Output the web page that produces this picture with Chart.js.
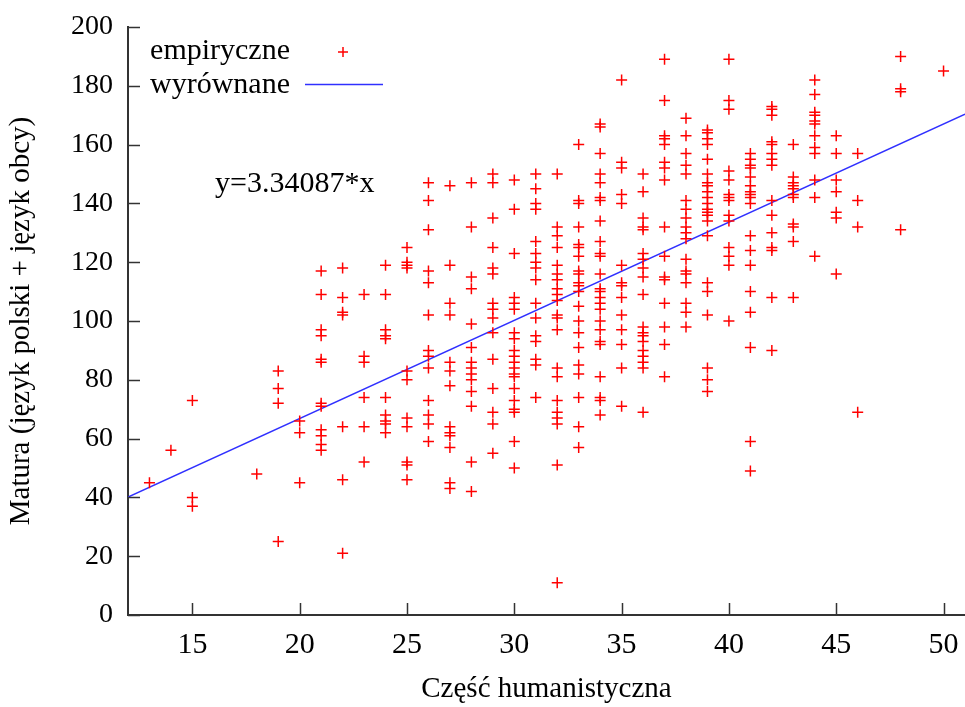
<!DOCTYPE html>
<html>
<head>
<meta charset="utf-8">
<script src="https://cdn.jsdelivr.net/npm/chart.js@4.4.0/dist/chart.umd.min.js"></script>
<style>
    html, body { margin: 0; padding: 0; background: #fff; }
    #wrap { width: 965px; height: 707px; }
</style>
</head>
<body>
<div id="wrap"><canvas id="myChart"></canvas></div>
<script>
// część humanistyczna (x) -> wyniki matury w tej kolumnie
var humanScores = [13, 14, 15, 18, 19, 20, 21, 22, 23, 24, 25, 26, 27, 28, 29, 30, 31, 32, 33,
    34, 35, 36, 37, 38, 39, 40, 41, 42, 43, 44, 45, 46, 48, 50];
var maturaScores = [
    [45],
    [56],
    [73, 40, 37],
    [48],
    [83, 77, 72, 25],
    [66, 62, 45],
    [117, 109, 97, 95, 87, 86, 72, 71, 63, 61, 58, 56],
    [118, 108, 103, 102, 64, 46, 21],
    [109, 88, 86, 74, 64, 52],
    [119, 109, 97, 95, 94, 74, 68, 66, 65, 62],
    [125, 120, 119, 118, 83, 80, 67, 64, 52, 51, 46],
    [147, 141, 131, 117, 113, 102, 90, 88, 84, 73, 68, 65, 59],
    [146, 119, 106, 102, 86, 83, 78, 64, 62, 61, 57, 45, 43],
    [147, 132, 115, 111, 99, 91, 86, 84, 82, 80, 76, 71, 52, 42],
    [150, 147, 135, 125, 118, 116, 106, 104, 101, 96, 87, 77, 69, 65, 55],
    [148, 138, 123, 108, 106, 104, 96, 94, 90, 88, 86, 84, 82, 81, 77, 73, 70, 69, 59, 50],
    [150, 145, 140, 138, 127, 123, 120, 118, 114, 106, 101, 95, 93, 87, 85, 74],
    [150, 132, 129, 125, 119, 116, 114, 111, 109, 107, 102, 101, 97, 84, 81, 73, 69, 67, 65, 51, 11],
    [160, 141, 140, 132, 126, 125, 122, 117, 116, 113, 112, 110, 105, 100, 96, 91, 85, 82, 74, 64, 57],
    [167, 166, 157, 150, 147, 142, 141, 134, 127, 123, 122, 116, 111, 110, 108, 106, 104, 100, 97, 93, 92, 81, 74, 73, 68],
    [182, 154, 152, 143, 140, 119, 113, 112, 108, 102, 97, 92, 84, 71],
    [150, 144, 135, 132, 131, 123, 121, 118, 115, 109, 98, 96, 95, 93, 90, 88, 86, 84, 69],
    [189, 175, 163, 162, 160, 154, 152, 148, 132, 122, 115, 114, 106, 98, 92, 81],
    [169, 163, 157, 153, 150, 141, 138, 135, 132, 130, 128, 121, 117, 116, 113, 106, 103, 98],
    [165, 164, 162, 160, 155, 150, 147, 146, 144, 142, 140, 138, 137, 136, 134, 129, 113, 110, 102, 84, 80, 76],
    [189, 175, 172, 151, 148, 143, 142, 141, 136, 134, 125, 122, 119, 100],
    [157, 155, 153, 152, 149, 146, 144, 143, 142, 140, 129, 124, 119, 110, 103, 91, 59, 49],
    [173, 172, 170, 161, 160, 157, 155, 153, 141, 136, 130, 125, 124, 108, 90],
    [160, 149, 147, 146, 145, 143, 142, 133, 132, 127, 108],
    [182, 177, 171, 170, 168, 167, 163, 159, 157, 148, 142, 122],
    [163, 157, 148, 144, 137, 135, 116],
    [157, 141, 132, 69],
    [190, 179, 178, 131],
    [185]
];

// prosta y=3.34087*x na krańcach osi
var fitX = [12, 51];
var fitY = [40.09, 170.38];

var xTicks = [15, 20, 25, 30, 35, 40, 45, 50];
var yTicks = [0, 20, 40, 60, 80, 100, 120, 140, 160, 180, 200];

var serif = "'Liberation Serif', 'Times New Roman', serif";

var points = [];
humanScores.forEach(function (x, i) {
    maturaScores[i].forEach(function (y) {
        points.push({ x: x, y: y });
    });
});

var fitLine = fitX.map(function (x, i) {
    return { x: x, y: fitY[i] };
});

// ticks inside the plot, legend and the formula label
var extras = {
    id: 'extras',
    afterDraw: function (chart) {
        var ctx = chart.ctx;
        var area = chart.chartArea;
        var sx = chart.scales.x;
        var sy = chart.scales.y;

        ctx.save();
        ctx.strokeStyle = '#333';
        ctx.lineWidth = 1.5;
        xTicks.forEach(function (v) {
            var px = Math.round(sx.getPixelForValue(v)) + 0.5;
            ctx.beginPath();
            ctx.moveTo(px, area.bottom);
            ctx.lineTo(px, area.bottom - 12);
            ctx.stroke();
        });
        yTicks.forEach(function (v) {
            var py = Math.round(sy.getPixelForValue(v)) + 0.5;
            ctx.beginPath();
            ctx.moveTo(area.left, py);
            ctx.lineTo(area.left + 12, py);
            ctx.stroke();
        });

        ctx.fillStyle = '#000';
        ctx.font = '30px ' + serif;
        ctx.textBaseline = 'middle';
        ctx.textAlign = 'right';
        ctx.fillText('empiryczne', area.left + 162, area.top + 24);
        ctx.fillText('wyrównane', area.left + 162, area.top + 58);
        ctx.textAlign = 'left';
        ctx.fillText('y=3.34087*x', area.left + 87, area.top + 157);

        // legend symbols
        ctx.strokeStyle = '#ff0000';
        ctx.lineWidth = 1.5;
        var mx = area.left + 215, my = area.top + 25;
        ctx.beginPath();
        ctx.moveTo(mx - 5, my);
        ctx.lineTo(mx + 5, my);
        ctx.moveTo(mx, my - 5);
        ctx.lineTo(mx, my + 5);
        ctx.stroke();

        ctx.strokeStyle = '#3030ff';
        ctx.beginPath();
        ctx.moveTo(area.left + 177, area.top + 57.5);
        ctx.lineTo(area.left + 255, area.top + 57.5);
        ctx.stroke();
        ctx.restore();
    }
};

var ctx = document.getElementById('myChart').getContext('2d');

new Chart(ctx, {
    type: 'scatter',
    data: {
        datasets: [{
            label: 'empiryczne',
            data: points,
            pointStyle: 'cross',
            pointRadius: 5.5,
            borderColor: '#ff0000',
            backgroundColor: '#ff0000',
            borderWidth: 1.5
        }, {
            label: 'wyrównane',
            type: 'line',
            data: fitLine,
            borderColor: '#3030ff',
            borderWidth: 1.5,
            pointRadius: 0,
            fill: false
        }]
    },
    options: {
        responsive: true,
        maintainAspectRatio: false,
        animation: false,
        events: [],
        layout: {
            autoPadding: false,
            padding: { left: 0, right: 0, top: 27, bottom: 0 }
        },
        plugins: {
            legend: { display: false },
            tooltip: { enabled: false }
        },
        scales: {
            x: {
                type: 'linear',
                min: 12,
                max: 51,
                afterBuildTicks: function (scale) {
                    scale.ticks = xTicks.map(function (v) { return { value: v }; });
                },
                afterFit: function (scale) {
                    scale.height = 92;
                    scale.paddingLeft = 0;
                    scale.paddingRight = 0;
                },
                grid: { display: false, drawTicks: false },
                border: { display: true, color: '#333', width: 2 },
                ticks: {
                    color: '#000',
                    padding: 12,
                    maxRotation: 0,
                    font: { family: serif, size: 30 }
                },
                title: {
                    display: true,
                    text: 'Część humanistyczna',
                    color: '#000',
                    padding: { top: 0, bottom: 0 },
                    font: { family: serif, size: 29 }
                }
            },
            y: {
                type: 'linear',
                min: 0,
                max: 200,
                afterBuildTicks: function (scale) {
                    scale.ticks = yTicks.map(function (v) { return { value: v }; });
                },
                afterFit: function (scale) {
                    scale.width = 128;
                    scale.paddingTop = 0;
                    scale.paddingBottom = 0;
                },
                grid: { display: false, drawTicks: false },
                border: { display: true, color: '#333', width: 2 },
                ticks: {
                    color: '#000',
                    padding: 15,
                    font: { family: serif, size: 28 }
                },
                title: {
                    display: true,
                    text: 'Matura (język polski + język obcy)',
                    color: '#000',
                    padding: { top: 4, bottom: 0 },
                    font: { family: serif, size: 29 }
                }
            }
        }
    },
    plugins: [extras]
});
</script>
</body>
</html>
